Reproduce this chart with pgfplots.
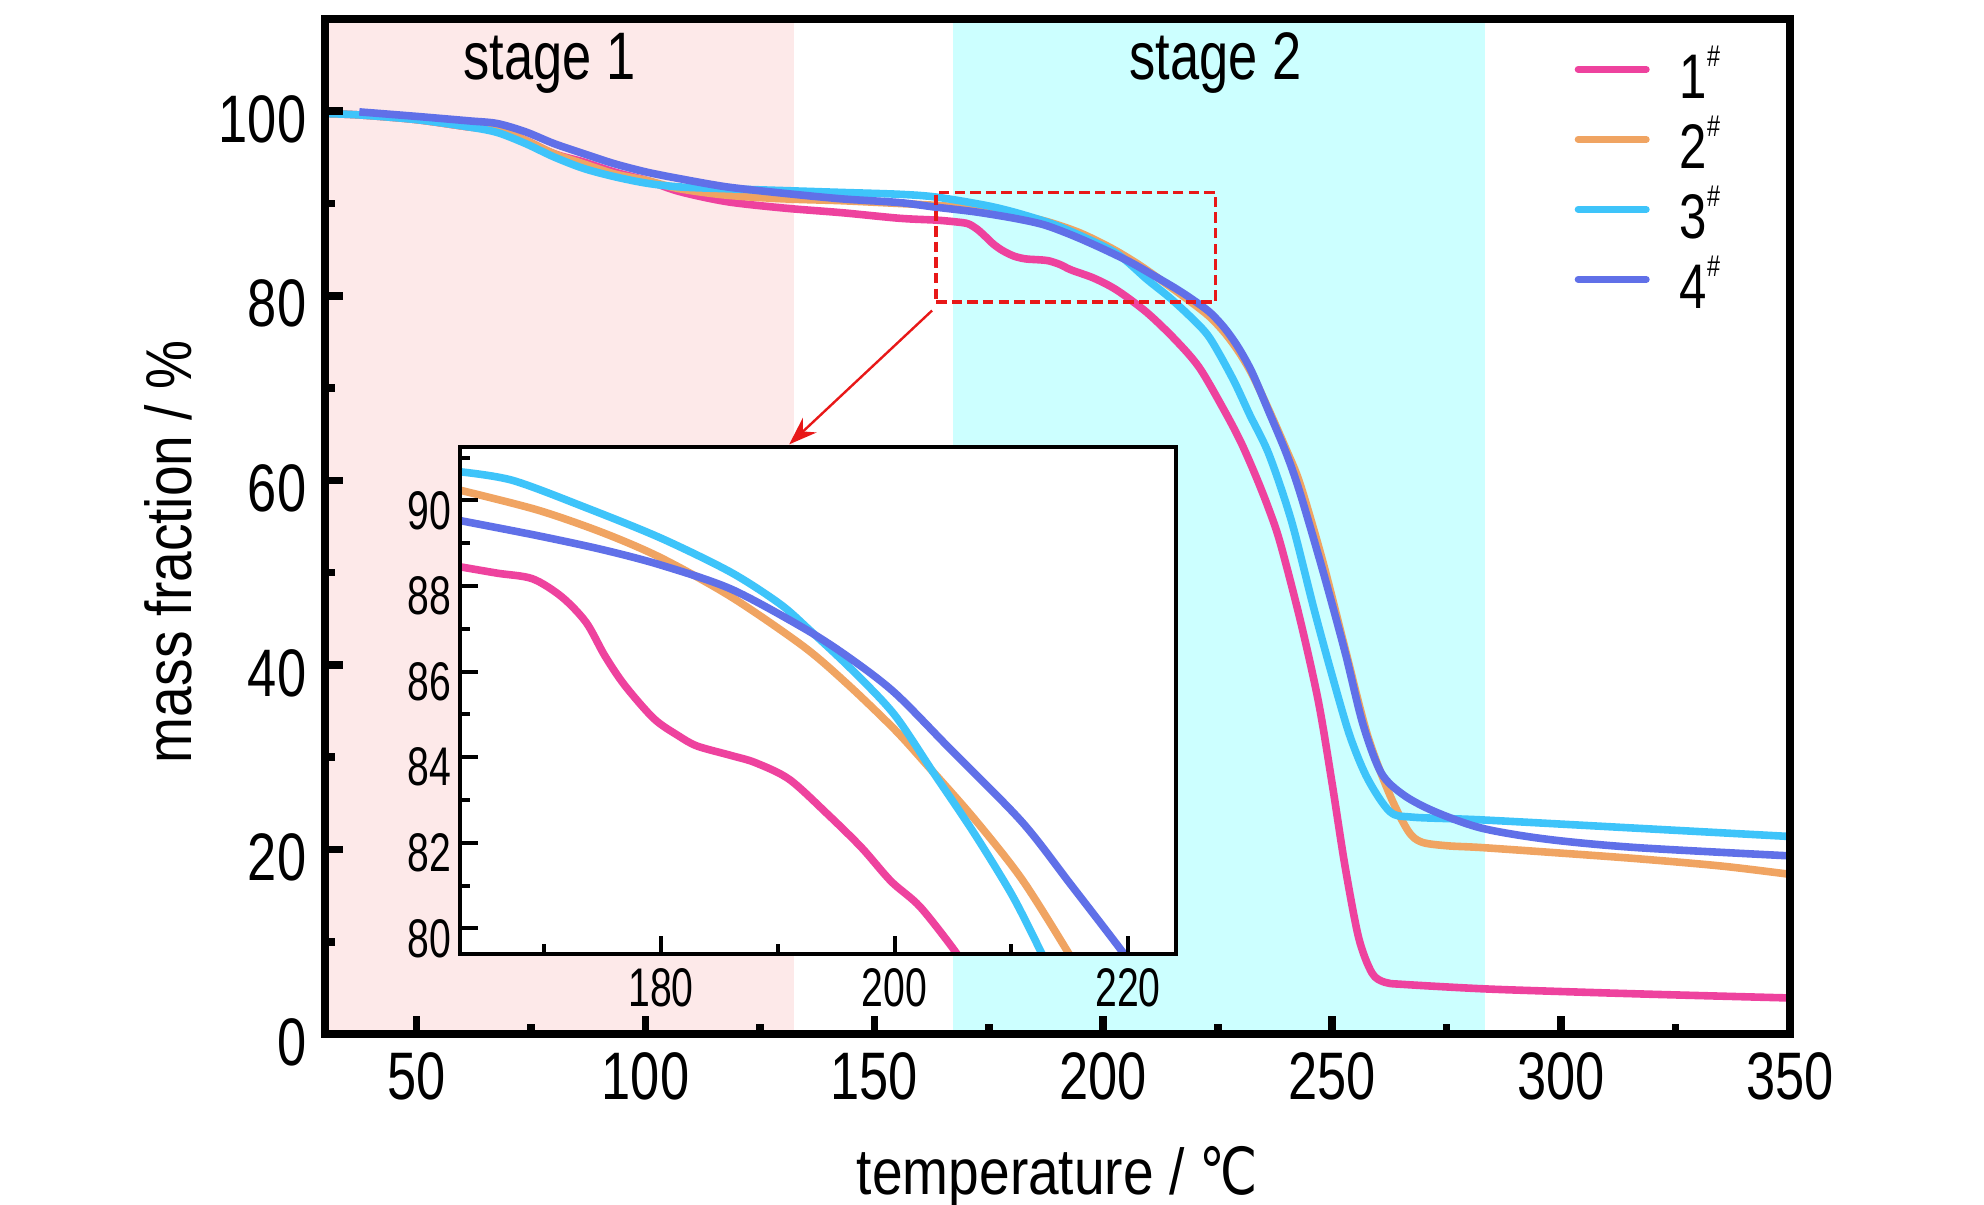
\documentclass[border=0pt]{standalone}
\usepackage{pgfplots}
\pgfplotsset{compat=1.18}
\usepackage{fontspec}
\setmainfont{Liberation Sans}[FakeStretch=0.78]
\newfontfamily\labelfont{Liberation Sans}[FakeStretch=0.85]
\newfontfamily\insetfont{Liberation Sans}[FakeStretch=0.72]
\newfontfamily\symfont{DejaVu Sans}[FakeStretch=0.8]
\usetikzlibrary{arrows.meta}
\definecolor{cA}{RGB}{238,66,158}
\definecolor{cB}{RGB}{240,164,98}
\definecolor{cC}{RGB}{62,196,250}
\definecolor{cD}{RGB}{96,112,232}
\definecolor{shA}{RGB}{253,233,233}
\definecolor{shB}{RGB}{204,255,255}
\definecolor{rd}{RGB}{232,24,24}

\pgfplotstableread{
x y
30 99.75
37.5 99.6
49.8 99.1
61.4 98.3
67.6 98.0
73.8 96.85
80 95.4
86.5 94.5
93.3 93.4
100.3 92.5
107.4 91.3
117.8 90.2
130.4 89.5
143 89.0
155.5 88.4
163.5 88.2
168 88.0
170.5 87.8
172.5 87.2
174.3 86.4
176 85.6
178 84.9
180.5 84.3
183 84.0
186 83.9
188 83.8
190.5 83.4
193 82.8
198 81.9
203 80.6
209.5 78.2
215.8 75.2
221 72.2
226.4 67.6
230 64.2
233.2 60.6
236 57.1
238.6 53.3
243 44.9
247 36.0
250 27.1
252.8 18.2
255.8 10.4
258.7 6.6
261.5 5.6
265.6 5.37
282.7 4.9
300 4.6
320 4.3
350 3.9
}\mainA
\pgfplotstableread{
x y
30 99.75
37.5 99.6
49.8 99.1
61.4 98.3
67.6 98.0
73.8 96.85
80 95.4
86.5 94.3
93.3 93.2
100.3 92.5
107.4 91.6
117.8 90.9
130.4 90.5
143 90.3
155.5 90.0
163.5 89.8
174 89.4
181 88.8
188 88.0
195 86.8
202 85.1
208 83.3
214 81.2
219.5 79.2
223.3 77.7
226.5 76.0
229.5 74.0
232.5 71.5
236.2 67.6
240 63.3
243 59.6
247.9 51.3
252.8 41.8
257.7 32.4
262.6 25.9
266.6 22.0
269.5 20.8
275 20.4
282.7 20.2
300 19.6
316.5 19.0
335 18.2
350 17.3
}\mainB
\pgfplotstableread{
x y
30 99.75
37.5 99.6
49.8 99.1
61.4 98.3
67.6 97.7
73.8 96.5
80 95.05
86.5 93.8
93.3 92.9
100.3 92.2
107.4 91.8
117.8 91.6
130.4 91.4
143 91.2
155.5 91.0
163.5 90.7
174.3 89.8
181 89.0
188.8 87.8
196 86.3
203.2 84.5
209.5 81.8
214.5 79.8
219.5 77.5
223.3 75.4
228.3 71.0
232 67.1
236.2 62.8
241.1 55.6
246 46.1
249.9 39.0
253.8 32.4
257.7 27.7
262.6 24.1
267.5 23.5
282.7 23.2
316.5 22.3
350 21.4
}\mainC
\pgfplotstableread{
x y
37.5 99.93
49.8 99.45
61.4 98.96
67.6 98.67
73.8 97.77
80 96.5
86.5 95.4
93.3 94.3
100.3 93.4
107.4 92.7
117.8 91.8
130.4 91.1
143 90.5
155.5 90.1
163.5 89.6
172 89.1
180.6 88.4
187 87.7
193 86.6
199 85.3
205.7 83.7
211 82.2
215.8 80.8
219.5 79.6
223.3 78.2
226.5 76.5
229.5 74.4
232.5 71.7
236.2 67.4
240 62.9
243 58.6
247.9 50.3
252.8 41.4
256.7 33.6
260.7 28.3
265.6 25.9
272.4 24.1
282.7 22.3
297 21.1
316.5 20.2
350 19.3
}\mainD

\pgfplotstableread{
x y
162.8 88.45
166 88.3
169 88.17
171.5 87.75
173.6 87.15
175.2 86.37
176.9 85.68
179.4 84.9
181.5 84.5
183.1 84.26
186 84.04
188.1 83.87
191 83.48
194.3 82.66
197.2 81.88
199.7 81.1
202.2 80.5
205.3 79.42
205.8 79.1
}\insA
\pgfplotstableread{
x y
162.8 90.24
169.4 89.78
175 89.25
180 88.66
186 87.75
192.2 86.59
196 85.7
200 84.65
202.6 83.87
206.8 82.57
210.9 81.15
214.9 79.42
215.6 79.05
}\insB
\pgfplotstableread{
x y
162.8 90.67
167.3 90.47
173.6 89.83
180 89.12
186 88.32
190.2 87.58
192.7 86.98
196.4 86.03
200 84.99
203.4 83.61
206.8 82.23
210.1 80.76
212.6 79.42
213.4 79.0
}\insC
\pgfplotstableread{
x y
162.8 89.53
169.4 89.18
175 88.85
180 88.49
186 87.93
192.2 87.02
196 86.35
200 85.51
204.7 84.21
210.9 82.49
215.1 81.02
219.6 79.42
220.3 79.1
}\insD

\newcommand{\hs}{\raisebox{8.0pt}{\fontsize{7.5}{8}\selectfont\#}}

\begin{document}
\begin{tikzpicture}
\useasboundingbox (-81.25pt,-42.75pt) rectangle (414.75pt,258.5pt);
\begin{axis}[
  at={(0pt,0pt)}, anchor=south west,
  width=366.25pt, height=253.75pt, scale only axis,
  xmin=30, xmax=350, ymin=0, ymax=110,
  xtick={50,100,...,350}, ytick={0,20,...,100},
  minor xtick={75,125,...,325}, minor ytick={10,30,...,90},
  tick align=inside, tick pos=left,
  axis line style={line width=1.9pt},
  major tick length=4.5pt, minor tick length=2.4pt,
  every tick/.style={line width=1.9pt, black},
  axis on top,
  /pgf/number format/assume math mode=true,
  tick label style={font=\fontsize{16.8}{20}\selectfont},
  xticklabel style={inner sep=0pt, yshift=-4.5pt},
  yticklabel style={inner sep=0pt, xshift=-4.5pt, yshift=-2pt},
  xlabel={temperature / {\symfont ℃}},
  ylabel={mass fraction / \%},
  xlabel style={font=\labelfont\fontsize{16.2}{20}\selectfont, at={([yshift=-40.25pt]axis description cs:0.5,0)}, anchor=base},
  ylabel style={font=\labelfont\fontsize{16.2}{20}\selectfont, at={([xshift=-33.25pt]axis description cs:0,0.475)}, anchor=base},
  legend style={at={(axis cs:302.8,106.7)}, anchor=north west, draw=none, fill=none, inner sep=0pt, row sep=5.5pt,
     font=\fontsize{15.75}{18}\selectfont,
     nodes={inner sep=0pt, text height=12pt, text depth=0pt, anchor=west},
     /tikz/every odd column/.append style={column sep=7.5pt}},
  legend cell align=left,
  legend image code/.code={\draw[#1, line width=1.75pt, line cap=round] (0pt,1.2pt) -- (17pt,1.2pt);},
  every axis plot/.append style={smooth, tension=0.5, line join=round},
]
\addplot[fill=shA, draw=none, forget plot, sharp plot] coordinates {(30,0) (132.4,0) (132.4,110) (30,110)} -- cycle;
\addplot[fill=shB, draw=none, forget plot, sharp plot] coordinates {(167.1,0) (283.3,0) (283.3,110) (167.1,110)} -- cycle;

\addplot[cA, line width=1.9pt] table {\mainA};
\addlegendentry{1\hs}
\addplot[cB, line width=1.9pt] table {\mainB};
\addlegendentry{2\hs}
\addplot[cC, line width=1.9pt] table {\mainC};
\addlegendentry{3\hs}
\addplot[cD, line width=1.9pt] table {\mainD};
\addlegendentry{4\hs}

\addplot[rd, line width=0.9pt, dash pattern=on 2.6pt off 1.3pt, forget plot, sharp plot] coordinates {(163.5,79.3) (224.5,79.3) (224.5,91.2) (163.5,91.2)} -- cycle;
\addplot[rd, line width=0.6pt, -{Stealth[length=7pt,width=5pt]}, forget plot, sharp plot] coordinates {(162.6,78.4) (131.4,63.9)};

\node[anchor=base, font=\fontsize{16.8}{20}\selectfont] at (axis cs:79,103.4) {stage 1};
\node[anchor=base, font=\fontsize{16.8}{20}\selectfont] at (axis cs:224.5,103.4) {stage 2};
\end{axis}

\begin{axis}[
  at={(33.75pt,20pt)}, anchor=south west,
  width=179pt, height=126.75pt, scale only axis,
  xmin=162.8, xmax=224.1, ymin=79.4, ymax=91.25,
  xtick={180,200,220}, ytick={80,82,...,90},
  minor xtick={170,190,210}, minor ytick={81,83,...,91},
  tick align=inside, tick pos=left,
  axis line style={line width=1pt},
  major tick length=4.5pt, minor tick length=2.5pt,
  every tick/.style={line width=1pt, black},
  axis background/.style={fill=white},
  axis on top,
  /pgf/number format/assume math mode=true,
  tick label style={font=\insetfont\fontsize{13.6}{16}\selectfont},
  xticklabel style={inner sep=0pt, yshift=-3.5pt},
  yticklabel style={inner sep=0pt, xshift=-2pt, yshift=-2.5pt},
  every axis plot/.append style={smooth, tension=0.5, line join=round},
]
\addplot[cA, line width=1.9pt] table {\insA};
\addplot[cB, line width=1.9pt] table {\insB};
\addplot[cC, line width=1.9pt] table {\insC};
\addplot[cD, line width=1.9pt] table {\insD};
\end{axis}
\end{tikzpicture}
\end{document}
